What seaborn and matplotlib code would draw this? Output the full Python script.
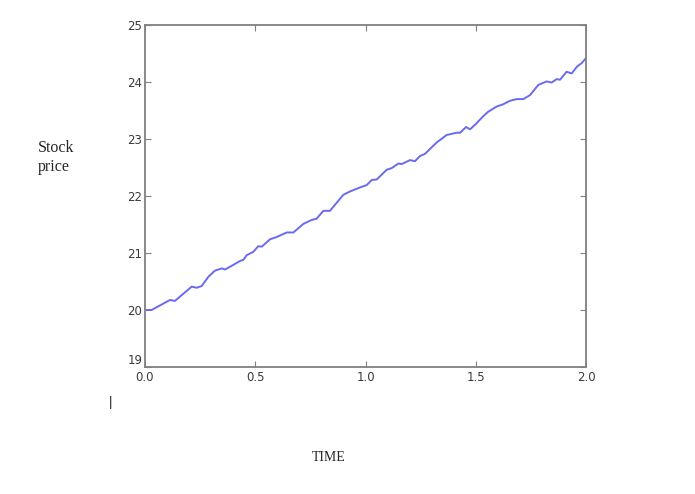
import numpy as np
import pandas as pd
import matplotlib
matplotlib.use('Agg')
import matplotlib.pyplot as plt
import seaborn as sns

# values
time = [0.0, 0.008, 0.03, 0.113, 0.136, 0.212, 0.234, 0.257, 0.287, 0.317, 0.348,
        0.363, 0.40, 0.431, 0.446, 0.461, 0.491, 0.514, 0.529, 0.567, 0.597, 0.643,
        0.673, 0.718, 0.756, 0.778, 0.809, 0.839, 0.899, 0.930, 0.975, 1.005, 1.028,
        1.051, 1.096, 1.119, 1.149, 1.164, 1.202, 1.224, 1.247, 1.270, 1.323, 1.368,
        1.413, 1.429, 1.456, 1.474, 1.497, 1.534, 1.557, 1.595, 1.625, 1.655, 1.686,
        1.716, 1.746, 1.784, 1.822, 1.844, 1.867, 1.882, 1.912, 1.935, 1.959, 1.98, 2.0]
price = [20.0, 20.0, 20.0, 20.175, 20.16, 20.41, 20.39, 20.42, 20.58, 20.69, 20.73,
         20.71, 20.79, 20.86, 20.88, 20.96, 21.02, 21.12, 21.11, 21.24, 21.28, 21.36,
         21.36, 21.51, 21.58, 21.60, 21.74, 21.74, 22.02, 22.08, 22.15, 22.19, 22.28,
         22.29, 22.46, 22.49, 22.57, 22.56, 22.63, 22.61, 22.70, 22.74, 22.94, 23.07,
         23.11, 23.11, 23.21, 23.17, 23.25, 23.40, 23.48, 23.57, 23.61, 23.67, 23.70,
         23.70, 23.77, 23.95, 24.01, 23.99, 24.05, 24.04, 24.18, 24.15, 24.27, 24.33, 24.42]
xticks = [0.0, 0.5, 1.0, 1.5, 2.0]
yticks = [19, 20, 21, 22, 23, 24, 25]

df = pd.DataFrame({'time': time, 'price': price})

sns.set_style('white')
fig = plt.figure(figsize=(6.95, 4.94), dpi=100)
ax = fig.add_axes([0.2086, 0.2571, 0.6346, 0.6923])
sns.lineplot(data=df, x='time', y='price', ax=ax, color='#6a6af0', lw=1.4)

ax.set_xlim(0, 2)
ax.set_ylim(19, 25)
ax.set_xticks(xticks)
ax.set_xticklabels([f'{t:.1f}' for t in xticks])
ax.set_yticks(yticks)
ax.set_xlabel('')
ax.set_ylabel('')
for s in ax.spines.values():
    s.set_color('#808080')
    s.set_linewidth(1.3)
ax.tick_params(direction='in', length=4, width=0.8, color='#808080',
               labelsize=8.5, labelcolor='#3a3a3a', pad=2, top=True, right=True,
               bottom=True, left=True)
ax.tick_params(axis='x', pad=3)
# bottom y label sits a bit higher, like the old-style reference
ax.get_yticklabels()[0].set_va('bottom')

# word-doc style labels around the plot
serif = ['Liberation Serif', 'DejaVu Serif']
fig.text(38 / 695, 1 - 148 / 494, 'Stock', family=serif, fontsize=11.5, va='center')
fig.text(38 / 695, 1 - 167 / 494, 'price', family=serif, fontsize=11.5, va='center')
fig.text(329 / 695, 1 - 457 / 494, 'TIME', family=serif, fontsize=10, ha='center', va='center')
fig.text(111 / 695, 1 - 402 / 494, '|', family=serif, fontsize=11, ha='center', va='center',
         weight='bold')

fig.savefig('out.png', dpi=100)
